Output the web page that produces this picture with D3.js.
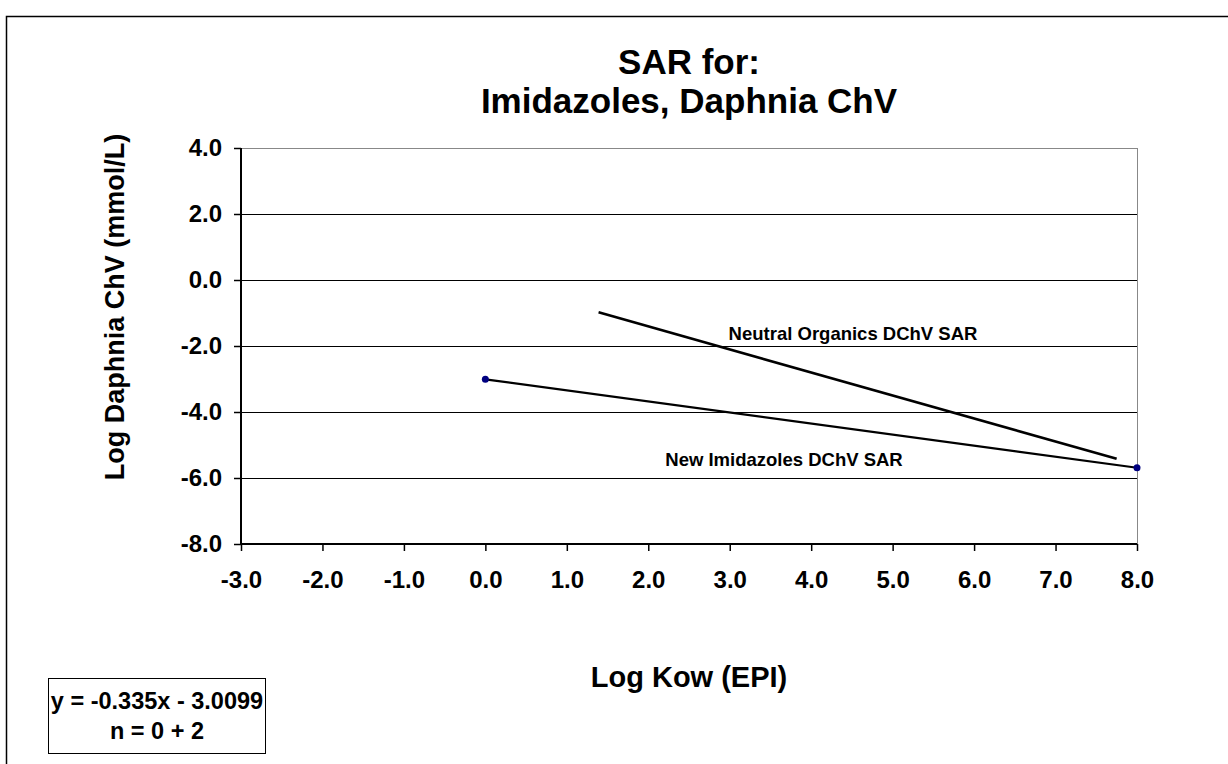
<!DOCTYPE html>
<html>
<head>
<meta charset="utf-8">
<script src="https://cdn.jsdelivr.net/npm/d3@7"></script>
<style>
  body { margin: 0; background: #fff; }
  text { font-family: Arial, "Liberation Sans", sans-serif; font-weight: bold; fill: #000; }
</style>
</head>
<body>
<div id="chart"></div>
<script>
// Data
var xTicks = [-3, -2, -1, 0, 1, 2, 3, 4, 5, 6, 7, 8];
var yTicks = [4, 2, 0, -2, -4, -6, -8];
var imidX = [0.0, 8.0];
var imidY = [-3.0099, -5.6899];
var neutralX = [1.39, 7.75];
var neutralY = [-0.98, -5.42];
var titleLines = ['SAR for:', 'Imidazoles, Daphnia ChV'];
var eqLines = ['y = -0.335x - 3.0099', 'n = 0 + 2'];

var W = 1228, H = 764;
var plot = { left: 241, right: 1137, top: 148, bottom: 544 };

var svg = d3.select('#chart').append('svg')
    .attr('width', W)
    .attr('height', H);

// outer chart border
svg.append('rect')
    .attr('x', 6.5).attr('y', 16.5)
    .attr('width', W + 20).attr('height', H + 20)
    .attr('fill', 'none').attr('stroke', '#000').attr('stroke-width', 1.5);

var x = d3.scaleLinear().domain([-3, 8]).range([plot.left, plot.right]);
var y = d3.scaleLinear().domain([-8, 4]).range([plot.bottom, plot.top]);

function fmt(d) { return d.toFixed(1); }   // plain hyphen, like the original

// gridlines
svg.append('g')
    .selectAll('line')
    .data(yTicks.filter(function (d) { return d > -8; }))
    .enter().append('line')
        .attr('x1', plot.left).attr('x2', plot.right)
        .attr('y1', function (d) { return Math.round(y(d)) + 0.5; })
        .attr('y2', function (d) { return Math.round(y(d)) + 0.5; })
        .attr('stroke', function (d) { return d === 4 ? '#888' : '#000'; })
        .attr('stroke-width', 1);

// right border of plot area
svg.append('line')
    .attr('x1', plot.right + 0.5).attr('x2', plot.right + 0.5)
    .attr('y1', plot.top).attr('y2', plot.bottom)
    .attr('stroke', '#888').attr('stroke-width', 1);

/*
 * AXES
 */
var yAxis = svg.append('g')
    .attr('class', 'y axis')
    .attr('transform', 'translate(' + plot.left + ',0)')
    .call(d3.axisLeft(y).tickValues(yTicks).tickSize(7).tickPadding(12)
        .tickFormat(fmt));

var xAxis = svg.append('g')
    .attr('class', 'x axis')
    .attr('transform', 'translate(0,' + plot.bottom + ')')
    .call(d3.axisBottom(x).tickValues(xTicks).tickSize(7).tickPadding(20)
        .tickFormat(fmt));

[yAxis, xAxis].forEach(function (ax) {
    ax.select('.domain').attr('stroke', '#000').attr('stroke-width', 2);
    ax.selectAll('.tick line').attr('stroke', '#000').attr('stroke-width', 1.5);
    ax.selectAll('.tick text')
        .style('font-family', 'Arial, "Liberation Sans", sans-serif')
        .style('font-weight', 'bold')
        .style('font-size', '24px')
        .attr('fill', '#000');
});
yAxis.select('.domain').attr('d', 'M0,' + plot.top + 'V' + plot.bottom);
xAxis.select('.domain').attr('d', 'M' + plot.left + ',0H' + plot.right);

// series lines
var line = d3.line()
    .x(function (d) { return x(d[0]); })
    .y(function (d) { return y(d[1]); });

svg.append('path')
    .attr('d', line(d3.zip(neutralX, neutralY)))
    .attr('fill', 'none').attr('stroke', '#000').attr('stroke-width', 2.6);

svg.append('path')
    .attr('d', line(d3.zip(imidX, imidY)))
    .attr('fill', 'none').attr('stroke', '#000').attr('stroke-width', 2.2);

svg.append('g')
    .selectAll('circle')
    .data(d3.zip(imidX, imidY))
    .enter().append('circle')
        .attr('cx', function (d) { return x(d[0]); })
        .attr('cy', function (d) { return y(d[1]); })
        .attr('r', 3.5)
        .attr('fill', '#000080');

// line labels
svg.append('text')
    .attr('x', 853).attr('y', 340)
    .attr('text-anchor', 'middle')
    .style('font-size', '18.5px')
    .text('Neutral Organics DChV SAR');

svg.append('text')
    .attr('x', 784).attr('y', 466)
    .attr('text-anchor', 'middle')
    .style('font-size', '18.5px')
    .text('New Imidazoles DChV SAR');

// title
svg.append('g')
    .selectAll('text')
    .data(titleLines)
    .enter().append('text')
        .attr('x', 689)
        .attr('y', function (d, i) { return 74 + i * 39; })
        .attr('text-anchor', 'middle')
        .style('font-size', '35px')
        .text(function (d) { return d; });

// axis titles
svg.append('text')
    .attr('x', 689).attr('y', 687)
    .attr('text-anchor', 'middle')
    .style('font-size', '29px')
    .text('Log Kow (EPI)');

svg.append('text')
    .attr('transform', 'translate(124,307) rotate(-90)')
    .attr('text-anchor', 'middle')
    .style('font-size', '27px')
    .text('Log Daphnia ChV (mmol/L)');

// equation box
svg.append('rect')
    .attr('x', 48.5).attr('y', 678.5)
    .attr('width', 217).attr('height', 75)
    .attr('fill', '#fff').attr('stroke', '#000').attr('stroke-width', 1);

svg.append('g')
    .selectAll('text')
    .data(eqLines)
    .enter().append('text')
        .attr('x', 157)
        .attr('y', function (d, i) { return 709 + i * 30; })
        .attr('text-anchor', 'middle')
        .style('font-size', '23.5px')
        .text(function (d) { return d; });
</script>
</body>
</html>
